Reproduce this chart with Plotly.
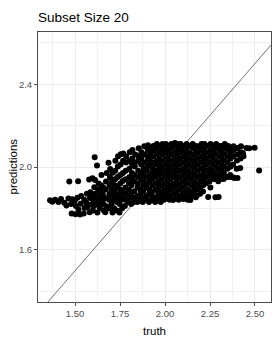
import plotly.graph_objects as go

# ---- data ----
truth = [
    1.361, 1.374, 1.389, 1.408, 1.422, 1.440, 1.452, 1.463, 1.468, 1.478, 1.481, 1.484,
    1.498, 1.502, 1.505, 1.513, 1.517, 1.519, 1.528, 1.531, 1.534, 1.548,
    1.551, 1.553, 1.562, 1.566, 1.569, 1.578, 1.581, 1.583, 1.585, 1.588,
    1.597, 1.599, 1.601, 1.603, 1.605, 1.607, 1.609, 1.611, 1.613, 1.616,
    1.622, 1.624, 1.626, 1.628, 1.629, 1.631, 1.638, 1.640, 1.642, 1.644, 1.645, 1.647,
    1.652, 1.654, 1.656, 1.658, 1.660, 1.668, 1.669, 1.671, 1.672, 1.674, 1.676,
    1.686, 1.688, 1.689, 1.691, 1.692, 1.694, 1.695, 1.702, 1.703, 1.705, 1.706, 1.708, 1.709,
    1.717, 1.718, 1.719, 1.721, 1.722, 1.723, 1.724, 1.726, 1.732, 1.733, 1.734, 1.736, 1.737, 1.738, 1.739,
    1.747, 1.748, 1.749, 1.750, 1.751, 1.752, 1.753, 1.754, 1.755, 1.762, 1.763, 1.764, 1.765, 1.766, 1.767, 1.768,
    1.777, 1.778, 1.779, 1.780, 1.781, 1.782, 1.783, 1.784, 1.797, 1.798, 1.799, 1.800, 1.801, 1.802, 1.803, 1.804, 1.805,
    1.812, 1.813, 1.814, 1.815, 1.816, 1.817, 1.818, 1.819, 1.827, 1.828, 1.829, 1.830, 1.831, 1.832, 1.833, 1.834,
    1.846, 1.847, 1.848, 1.849, 1.850, 1.851, 1.852, 1.853, 1.854, 1.862, 1.863, 1.864, 1.865, 1.866, 1.867, 1.868, 1.869,
    1.876, 1.877, 1.878, 1.879, 1.880, 1.881, 1.882, 1.883, 1.884, 1.885,
    1.895, 1.896, 1.897, 1.898, 1.899, 1.900, 1.901, 1.902, 1.903, 1.904, 1.905,
    1.911, 1.912, 1.913, 1.914, 1.915, 1.916, 1.917, 1.918, 1.919,
    1.926, 1.927, 1.928, 1.929, 1.930, 1.931, 1.932, 1.933, 1.934, 1.935, 1.936,
    1.945, 1.946, 1.947, 1.948, 1.949, 1.950, 1.951, 1.952, 1.953, 1.954, 1.955,
    1.961, 1.962, 1.963, 1.964, 1.965, 1.966, 1.967, 1.968, 1.969, 1.970,
    1.976, 1.977, 1.978, 1.979, 1.980, 1.981, 1.982, 1.983, 1.984, 1.985, 1.986,
    1.995, 1.996, 1.997, 1.998, 1.999, 2.000, 2.001, 2.002, 2.003, 2.004, 2.005,
    2.011, 2.012, 2.013, 2.014, 2.015, 2.016, 2.017, 2.018, 2.019, 2.020,
    2.026, 2.027, 2.028, 2.029, 2.030, 2.031, 2.032, 2.033, 2.034, 2.035, 2.036,
    2.045, 2.046, 2.047, 2.048, 2.049, 2.050, 2.051, 2.052, 2.053, 2.054, 2.055,
    2.061, 2.062, 2.063, 2.064, 2.065, 2.066, 2.067, 2.068, 2.069, 2.070,
    2.076, 2.077, 2.078, 2.079, 2.080, 2.081, 2.082, 2.083, 2.084, 2.085, 2.086,
    2.095, 2.096, 2.097, 2.098, 2.099, 2.100, 2.101, 2.102, 2.103, 2.104,
    2.111, 2.112, 2.113, 2.114, 2.115, 2.116, 2.117, 2.118, 2.119, 2.120,
    2.126, 2.127, 2.128, 2.129, 2.130, 2.131, 2.132, 2.133, 2.134, 2.135,
    2.145, 2.146, 2.147, 2.148, 2.149, 2.150, 2.151, 2.152, 2.153, 2.154,
    2.161, 2.162, 2.163, 2.164, 2.165, 2.166, 2.167, 2.168, 2.169,
    2.176, 2.177, 2.178, 2.179, 2.180, 2.181, 2.182, 2.183, 2.184,
    2.195, 2.196, 2.197, 2.198, 2.199, 2.200, 2.201, 2.202, 2.203,
    2.211, 2.212, 2.213, 2.214, 2.215, 2.216, 2.217, 2.218, 2.219,
    2.228, 2.229, 2.230, 2.231, 2.232, 2.233, 2.234,
    2.247, 2.248, 2.249, 2.250, 2.251, 2.252, 2.253,
    2.262, 2.263, 2.264, 2.265, 2.266, 2.267, 2.268,
    2.278, 2.279, 2.280, 2.281, 2.282, 2.283, 2.284,
    2.296, 2.297, 2.298, 2.299, 2.300, 2.301, 2.302,
    2.311, 2.312, 2.313, 2.314, 2.315, 2.316, 2.317, 2.326, 2.327, 2.328, 2.329, 2.330, 2.331, 2.332,
    2.346, 2.347, 2.348, 2.349, 2.350, 2.351, 2.362, 2.363, 2.364, 2.365, 2.366, 2.377, 2.378, 2.379, 2.380, 2.381,
    2.398, 2.400, 2.401, 2.402, 2.418, 2.420, 2.421, 2.422, 2.433, 2.436, 2.452, 2.468, 2.498, 2.523,
    2.240, 2.280, 2.298, 2.171, 2.141, 2.102, 2.252, 2.360, 2.385, 2.403,
]

predictions = [
    1.840, 1.833, 1.842, 1.831, 1.846, 1.828, 1.815, 1.848, 1.930, 1.822, 1.776, 1.845,
    1.838, 1.772, 1.812, 1.852, 1.932, 1.796, 1.771, 1.823, 1.861, 1.776,
    1.842, 1.803, 1.829, 1.871, 1.808, 1.940, 1.782, 1.851, 1.879, 1.819,
    1.946, 1.791, 1.842, 1.862, 1.812, 1.903, 2.048, 1.938, 1.872, 1.829,
    2.008, 1.781, 1.853, 1.892, 1.818, 1.921, 1.802, 1.861, 1.883, 1.842, 1.912, 1.962,
    1.831, 1.872, 1.903, 1.822, 1.791, 1.782, 1.851, 1.893, 1.931, 1.811, 1.972,
    2.021, 1.801, 1.842, 1.871, 1.912, 1.951, 1.991, 1.862, 1.822, 1.893, 1.932, 1.781, 1.973,
    1.802, 1.843, 1.882, 1.912, 1.941, 1.982, 2.031, 1.861, 1.791, 1.832, 1.852, 1.901, 1.952, 2.003, 2.052,
    1.781, 1.822, 1.871, 1.892, 1.921, 1.962, 2.012, 2.062, 1.843, 1.802, 1.851, 1.882, 1.933, 1.972, 2.031, 2.066,
    1.812, 1.843, 1.872, 1.902, 1.941, 1.983, 2.022, 2.051, 1.832, 1.862, 1.891, 1.922, 1.951, 1.992, 2.031, 2.072, 1.853,
    1.822, 1.871, 1.912, 1.941, 1.972, 2.012, 2.041, 2.082, 1.831, 1.852, 1.883, 1.932, 1.962, 2.003, 2.022, 2.061,
    1.832, 1.861, 1.902, 1.921, 1.952, 1.982, 2.031, 2.052, 2.091, 1.842, 1.872, 1.891, 1.942, 1.971, 2.012, 2.041, 2.072,
    1.831, 1.852, 1.882, 1.911, 1.932, 1.962, 1.991, 2.022, 2.061, 2.101,
    1.842, 1.861, 1.902, 1.921, 1.952, 1.982, 2.002, 2.031, 2.052, 2.082, 2.106,
    1.831, 1.872, 1.891, 1.932, 1.961, 2.012, 2.041, 2.072, 2.092,
    1.842, 1.862, 1.881, 1.912, 1.942, 1.971, 1.992, 2.021, 2.052, 2.081, 2.102,
    1.831, 1.852, 1.892, 1.921, 1.952, 1.981, 2.012, 2.031, 2.062, 2.091, 2.111,
    1.842, 1.871, 1.902, 1.931, 1.962, 1.991, 2.022, 2.042, 2.071, 2.102,
    1.832, 1.861, 1.882, 1.912, 1.941, 1.972, 2.002, 2.031, 2.062, 2.082, 2.111,
    1.842, 1.871, 1.892, 1.921, 1.952, 1.981, 2.012, 2.041, 2.072, 2.092, 2.112,
    1.852, 1.881, 1.902, 1.932, 1.962, 1.991, 2.022, 2.052, 2.081, 2.101,
    1.842, 1.862, 1.891, 1.912, 1.942, 1.972, 2.002, 2.031, 2.062, 2.091, 2.112,
    1.841, 1.872, 1.902, 1.921, 1.952, 1.982, 2.011, 2.042, 2.071, 2.102, 2.116,
    1.852, 1.881, 1.912, 1.942, 1.971, 2.002, 2.031, 2.062, 2.082, 2.111,
    1.842, 1.861, 1.892, 1.921, 1.951, 1.982, 2.012, 2.041, 2.072, 2.092, 2.112,
    1.852, 1.872, 1.902, 1.932, 1.962, 1.991, 2.022, 2.052, 2.081, 2.102,
    1.851, 1.882, 1.912, 1.941, 1.972, 2.002, 2.031, 2.062, 2.091, 2.112,
    1.842, 1.862, 1.891, 1.922, 1.952, 1.981, 2.012, 2.042, 2.071, 2.102,
    1.862, 1.881, 1.912, 1.942, 1.971, 2.002, 2.031, 2.061, 2.092, 2.112,
    1.872, 1.902, 1.931, 1.962, 1.992, 2.022, 2.052, 2.082, 2.102,
    1.862, 1.892, 1.921, 1.952, 1.982, 2.012, 2.041, 2.072, 2.101,
    1.872, 1.902, 1.932, 1.961, 1.992, 2.022, 2.051, 2.082, 2.111,
    1.882, 1.912, 1.942, 1.971, 2.002, 2.032, 2.062, 2.091, 2.112,
    1.922, 1.952, 1.982, 2.012, 2.042, 2.071, 2.102,
    1.931, 1.962, 1.991, 2.022, 2.052, 2.081, 2.111,
    1.942, 1.952, 1.982, 2.012, 2.042, 2.072, 2.102,
    1.942, 1.971, 2.002, 2.031, 2.062, 2.091, 2.111,
    1.932, 1.962, 1.992, 2.022, 2.052, 2.082, 2.102,
    1.942, 1.952, 1.982, 2.012, 2.042, 2.072, 2.102, 1.942, 1.972, 2.002, 2.032, 2.062, 2.092, 2.111,
    1.952, 1.992, 2.022, 2.052, 2.082, 2.102, 1.962, 2.002, 2.042, 2.072, 2.092, 1.951, 2.012, 2.052, 2.082, 2.101,
    1.992, 2.032, 2.062, 2.092, 1.996, 2.042, 2.072, 2.101, 2.067, 2.052, 2.092, 2.091, 2.093, 1.984,
    1.856, 1.855, 1.856, 1.855, 1.841, 1.846, 1.902, 1.952, 1.947, 1.947,
]

assert len(truth) == len(predictions)

identity_line = [1.2, 2.7]          # y = x reference line
x_ticks = [1.50, 1.75, 2.00, 2.25, 2.50]
x_tick_labels = ["1.50", "1.75", "2.00", "2.25", "2.50"]
x_minor = [1.375, 1.625, 1.875, 2.125, 2.375]
y_ticks = [1.6, 2.0, 2.4]
y_tick_labels = ["1.6", "2.0", "2.4"]
y_minor = [1.4, 1.8, 2.2, 2.6]

FONT = "Liberation Sans, Arial, Helvetica, sans-serif"
W, H = 277, 346
ML, MR, MT, MB = 38, 6, 32, 44

fig = go.Figure()
fig.add_trace(go.Scatter(
    x=identity_line, y=identity_line, mode="lines",
    line=dict(color="#333333", width=0.7), hoverinfo="skip", showlegend=False,
))
fig.add_trace(go.Scatter(
    x=truth, y=predictions, mode="markers",
    marker=dict(color="black", size=6, line=dict(width=0)),
    showlegend=False,
))

axis_common = dict(
    showgrid=True, gridcolor="#EBEBEB", gridwidth=0.9,
    zeroline=False, showline=True, linecolor="#4D4D4D", linewidth=1, mirror=True,
    ticks="outside", ticklen=3, tickwidth=1, tickcolor="#4D4D4D",
    tickfont=dict(family=FONT, size=9.5, color="#4D4D4D"),
    automargin=False,
)

fig.update_xaxes(
    range=[1.294, 2.589], tickmode="array", tickvals=x_ticks, ticktext=x_tick_labels,
    minor=dict(tickmode="array", tickvals=x_minor, showgrid=True, gridcolor="#F2F2F2", gridwidth=0.6, ticks=""),
    title=dict(text="truth", font=dict(family=FONT, size=11.5, color="black"), standoff=8),
    **axis_common,
)
fig.update_yaxes(
    range=[1.349, 2.652], tickmode="array", tickvals=y_ticks, ticktext=y_tick_labels,
    minor=dict(tickmode="array", tickvals=y_minor, showgrid=True, gridcolor="#F2F2F2", gridwidth=0.6, ticks=""),
    **axis_common,
)

fig.add_annotation(
    text="predictions", textangle=-90, showarrow=False,
    xref="paper", yref="paper",
    x=(12.5 - ML) / (W - ML - MR), y=0.5, xanchor="center", yanchor="middle",
    font=dict(family=FONT, size=11.5, color="black"),
)

fig.update_layout(
    width=W, height=H,
    margin=dict(l=ML, r=MR, t=MT, b=MB),
    paper_bgcolor="white", plot_bgcolor="white",
    font=dict(family=FONT),
    title=dict(text="Subset Size 20", x=38 / W, xanchor="left", xref="container",
               y=1 - 17 / H, yanchor="middle", yref="container",
               font=dict(family=FONT, size=13.5, color="black")),
    showlegend=False,
)

fig.write_html(
    "out.html",
    config={"displayModeBar": False},
    post_script="document.body.style.margin='0';document.body.style.padding='0';",
)
